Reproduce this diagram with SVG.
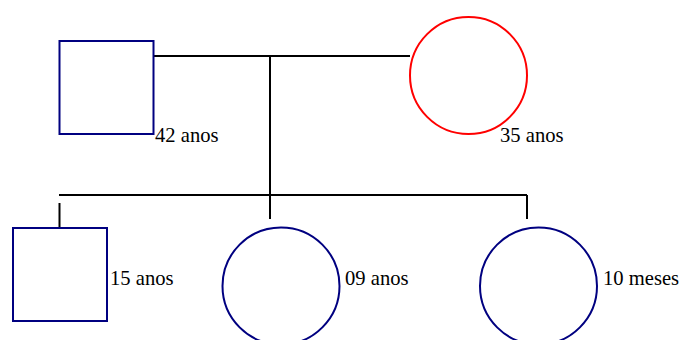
<svg xmlns="http://www.w3.org/2000/svg" width="681" height="340" viewBox="0 0 681 340">
  <style>
    .male { fill: #ffffff; stroke: #000080; stroke-width: 2; }
    .female { fill: #ffffff; stroke: #000080; stroke-width: 2; }
    .mother { fill: #ffffff; stroke: #ff0000; stroke-width: 2; }
    .link { fill: none; stroke: #000000; stroke-width: 2; }
    .age { font-family: "Liberation Serif", "Times New Roman", serif; font-size: 20.6px; fill: #000000; }
  </style>
  <rect width="681" height="340" fill="#ffffff"/>
  <g id="connectors">
    <line class="link" x1="153" y1="56" x2="410" y2="56"/>
    <line class="link" x1="270" y1="56" x2="270" y2="219"/>
    <line class="link" x1="59" y1="195" x2="527" y2="195"/>
    <line class="link" x1="59.5" y1="203" x2="59.5" y2="228"/>
    <line class="link" x1="527" y1="195" x2="527" y2="219"/>
  </g>
  <g id="father">
    <rect class="male" x="59.5" y="41" width="94" height="93"/>
    <text class="age" x="155" y="142">42 anos</text>
  </g>
  <g id="mother">
    <circle class="mother" cx="468.5" cy="75.5" r="58.5"/>
    <text class="age" x="500" y="142">35 anos</text>
  </g>
  <g id="son">
    <rect class="male" x="13" y="228" width="94" height="93"/>
    <text class="age" x="110" y="285">15 anos</text>
  </g>
  <g id="daughter1">
    <circle class="female" cx="281" cy="286" r="58.5"/>
    <text class="age" x="345" y="285">09 anos</text>
  </g>
  <g id="daughter2">
    <circle class="female" cx="538.5" cy="286" r="58.5"/>
    <text class="age" x="603" y="285">10 meses</text>
  </g>
</svg>
